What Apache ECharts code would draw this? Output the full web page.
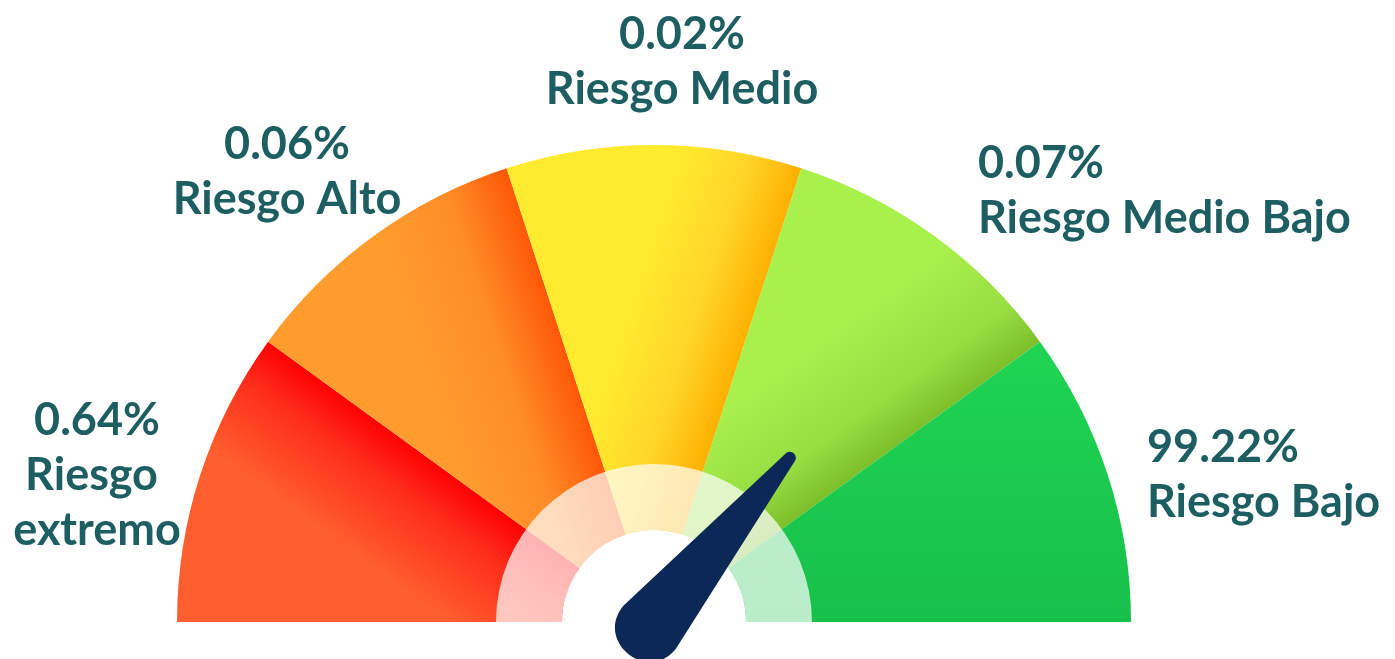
<!DOCTYPE html>
<html>
<head>
<meta charset="utf-8">
<title>Nivel de riesgo</title>
<script src="https://cdn.jsdelivr.net/npm/echarts@6/dist/echarts.min.js"></script>
<style>
	html, body { margin: 0; padding: 0; background: #ffffff; }
	#grafico { width: 1395px; height: 659px; }
</style>
</head>
<body>
<div id="grafico"></div>
<script>
/*
 * velocimetro de riesgo
 */
var categorias = ['Riesgo extremo', 'Riesgo Alto', 'Riesgo Medio', 'Riesgo Medio Bajo', 'Riesgo Bajo'];
var porcentajes = [0.64, 0.06, 0.02, 0.07, 99.22];
var tramos = [1, 1, 1, 1, 1]; // los cinco tramos tienen el mismo ancho
var aguja = [72]; // posicion de la aguja (0 - 100)

// estilos / posiciones
var centro = [654, 622];
var radioExt = 477, radioAnillo = 158, radioInt = 92;
var colorTexto = '#1d5e62';
var posEtiquetas = [
	[97, 475, 'center', 200],
	[287, 172, 'center', 0],
	[682, 62, 'center', 0],
	[978, 191, 'left', 0],
	[1147, 475, 'left', 0]
];
// [angulo del borde oscuro, longitud, paradas]
var degradados = [
	[144, 120, [[0, '#ff0000'], [0.35, '#ff2c1a'], [1, '#ff5e2e']]],
	[108, 140, [[0, '#ff5808'], [0.45, '#ff8c26'], [1, '#ff9c2e']]],
	[72, 120, [[0, '#ffb000'], [0.45, '#ffd52a'], [1, '#ffeb2e']]],
	[36, 130, [[0, '#7cbf2a'], [0.35, '#98dd42'], [1, '#a8f04c']]],
	[null, 0, [[0, '#1fd453'], [1, '#17c04a']]]
];

function degradado(d) {
	var stops = d[2].map(function(s) { return { offset: s[0], color: s[1] }; });
	if (d[0] === null) {
		return new echarts.graphic.LinearGradient(0, 0, 0, 1, stops);
	}
	var a = d[0] * Math.PI / 180;
	var r = (radioExt + radioAnillo) / 2;
	// punto sobre el borde y direccion hacia dentro del tramo (angulo creciente)
	var x0 = centro[0] + r * Math.cos(a), y0 = centro[1] - r * Math.sin(a);
	var nx = -Math.sin(a), ny = -Math.cos(a);
	return new echarts.graphic.LinearGradient(x0, y0, x0 + nx * d[1], y0 + ny * d[1], stops, true);
}

var datosTramos = tramos.map(function(v, i) {
	return { value: v, name: categorias[i], itemStyle: { color: degradado(degradados[i]) } };
});

var textos = categorias.map(function(nom, i) {
	var p = posEtiquetas[i];
	var st = {
		text: porcentajes[i].toFixed(2) + '%\n' + nom,
		fill: colorTexto,
		font: 'bold 45px Lato',
		fontFamily: 'Lato',
		fontWeight: 'bold',
		fontSize: 45,
		lineHeight: 55,
		align: p[2], textAlign: p[2],
		verticalAlign: 'middle', textVerticalAlign: 'middle'
	};
	if (p[3]) { st.width = p[3]; st.overflow = 'break'; }
	return { type: 'text', x: p[0], y: p[1], silent: true, style: st };
});

var myChart = echarts.init(document.getElementById('grafico'));
var option = {
	animation: false,
	graphic: { elements: textos },
	series: [
		{
			name: 'tramos',
			type: 'pie',
			z: 1,
			center: centro,
			radius: [radioInt, radioExt],
			startAngle: 180,
			endAngle: 0,
			clockwise: true,
			silent: true,
			label: { show: false },
			labelLine: { show: false },
			itemStyle: { borderWidth: 0 },
			data: datosTramos
		},
		{
			name: 'anillo',
			type: 'pie',
			z: 2,
			center: centro,
			radius: [radioInt, radioAnillo],
			startAngle: 180,
			endAngle: 0,
			silent: true,
			label: { show: false },
			labelLine: { show: false },
			itemStyle: { color: 'rgba(255,255,255,0.7)', borderWidth: 0 },
			data: [1]
		},
		{
			name: 'aguja',
			type: 'gauge',
			z: 10,
			center: centro,
			radius: radioExt,
			startAngle: 180,
			endAngle: 0,
			min: 0,
			max: 100,
			silent: true,
			axisLine: { show: false },
			axisTick: { show: false },
			splitLine: { show: false },
			axisLabel: { show: false },
			anchor: { show: false },
			title: { show: false },
			detail: { show: false },
			pointer: {
				// punta redonda arriba, base redonda abajo
				icon: 'path://M28 6 C28 -2 40 -2 40 6 L68 226 C68 271.33 0 271.33 0 226 Z',
				width: 68,
				length: 260,
				offsetCenter: [0, 41],
				keepAspect: false
			},
			itemStyle: { color: '#0b2856' },
			data: aguja.map(function(v) { return { value: v }; })
		}
	]
};
myChart.setOption(option);
</script>
</body>
</html>
